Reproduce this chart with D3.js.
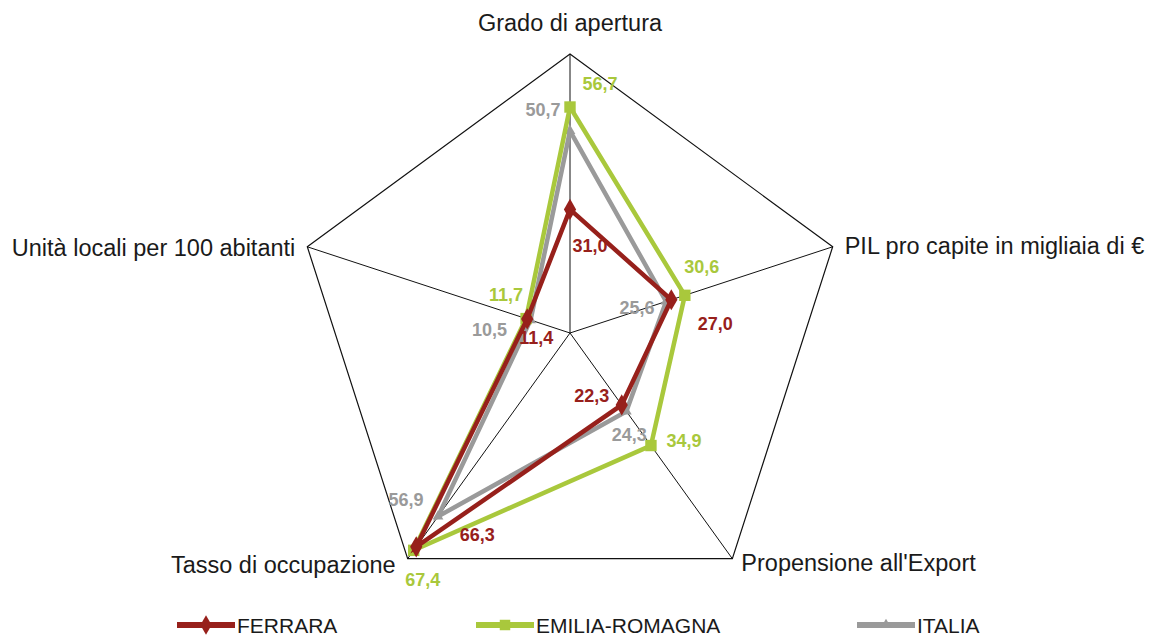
<!DOCTYPE html>
<html>
<head>
<meta charset="utf-8">
<script src="https://cdn.jsdelivr.net/npm/d3@7"></script>
<style>
  body { margin: 0; background: #fff; }
  svg { font-family: "Liberation Sans", Arial, sans-serif; }
</style>
</head>
<body>
<div id="vis"></div>
<script>
const FRAME_WIDTH = 1152;
const FRAME_HEIGHT = 636;
const CENTER = {x: 570, y: 333};
const RADIUS = 279;
const X_STRETCH = 0.99;

const AXES = ['Grado di apertura', 'PIL pro capite in migliaia di €', "Propensione all'Export",
              'Tasso di occupazione', 'Unità locali per 100 abitanti'];
const SERIES = ['FERRARA', 'EMILIA-ROMAGNA', 'ITALIA'];
const FERRARA = [31.0, 27.0, 22.3, 66.3, 11.4];
const EMILIA = [56.7, 30.6, 34.9, 67.4, 11.7];
const ITALIA = [50.7, 25.6, 24.3, 56.9, 10.5];
const MAX_VALUE = 70;

const COLORS = {'FERRARA': '#97201b', 'EMILIA-ROMAGNA': '#a9c83c', 'ITALIA': '#9a9a9a'};
const SYMBOLS = {'FERRARA': d3.symbolDiamond, 'EMILIA-ROMAGNA': d3.symbolSquare, 'ITALIA': d3.symbolTriangle};

const data = [
  {name: 'ITALIA', values: ITALIA},
  {name: 'EMILIA-ROMAGNA', values: EMILIA},
  {name: 'FERRARA', values: FERRARA}
];

// label offsets (dx, dy) of the label centre relative to its point
const LABEL_OFFSETS = {
  'FERRARA': [[20, 37], [44, 24], [-30, -9], [61, -12], [9, 19]],
  'EMILIA-ROMAGNA': [[30, -23], [17, -28], [33, -5], [9, 30], [-20, -24]],
  'ITALIA': [[-27, -21], [-29, 7], [3, 24], [-32, -16], [-41, 10]]
};

const ANGLE = d3.scaleLinear().domain([0, AXES.length]).range([0, 2 * Math.PI]);
const R_SCALE = d3.scaleLinear().domain([0, MAX_VALUE]).range([0, RADIUS]);

function pt(i, v) {
  const a = ANGLE(i);
  return [CENTER.x + X_STRETCH * R_SCALE(v) * Math.sin(a), CENTER.y - R_SCALE(v) * Math.cos(a)];
}

const svg = d3.select('#vis')
  .append('svg')
    .attr('width', FRAME_WIDTH)
    .attr('height', FRAME_HEIGHT);

// grid
svg.append('path')
  .attr('d', d3.line()(AXES.map((d, i) => pt(i, MAX_VALUE))) + 'Z')
  .attr('fill', 'none')
  .attr('stroke', '#111')
  .attr('stroke-width', 1.2);

svg.selectAll('.spoke')
  .data(AXES)
  .enter()
  .append('line')
    .attr('class', 'spoke')
    .attr('x1', CENTER.x)
    .attr('y1', CENTER.y)
    .attr('x2', (d, i) => pt(i, MAX_VALUE)[0])
    .attr('y2', (d, i) => pt(i, MAX_VALUE)[1])
    .attr('stroke', '#111')
    .attr('stroke-width', 1);

// axis labels
const AXIS_LABEL_POS = [
  {dx: 0, dy: -31, anchor: 'middle'},
  {dx: 12, dy: -1, anchor: 'start'},
  {dx: 9, dy: 4, anchor: 'start'},
  {dx: -12, dy: 6, anchor: 'end'},
  {dx: -12, dy: 1, anchor: 'end'}
];
svg.selectAll('.axis-label')
  .data(AXES)
  .enter()
  .append('text')
    .attr('class', 'axis-label')
    .attr('x', (d, i) => pt(i, MAX_VALUE)[0] + AXIS_LABEL_POS[i].dx)
    .attr('y', (d, i) => pt(i, MAX_VALUE)[1] + AXIS_LABEL_POS[i].dy)
    .attr('text-anchor', (d, i) => AXIS_LABEL_POS[i].anchor)
    .attr('dominant-baseline', 'central')
    .attr('font-size', '23.5px')
    .attr('fill', '#1a1a1a')
    .text(d => d);

// series
const groups = svg.selectAll('.series')
  .data(data)
  .enter()
  .append('g')
    .attr('class', 'series');

groups.append('path')
  .attr('d', d => d3.line()(d.values.map((v, i) => pt(i, v))) + 'Z')
  .attr('fill', 'none')
  .attr('stroke', d => COLORS[d.name])
  .attr('stroke-width', 4.5)
  .attr('stroke-linejoin', 'miter');

groups.selectAll('.marker')
  .data(d => d.values.map((v, i) => ({name: d.name, v: v, i: i})))
  .enter()
  .append('path')
    .attr('class', 'marker')
    .attr('transform', d => 'translate(' + pt(d.i, d.v) + ')')
    .attr('d', d => d3.symbol().type(SYMBOLS[d.name]).size(d.name === 'ITALIA' ? 50 : 130)())
    .attr('fill', d => COLORS[d.name]);

// value labels
const labels = [];
data.forEach(s => s.values.forEach((v, i) => labels.push({name: s.name, v: v, i: i})));
svg.selectAll('.value-label')
  .data(labels)
  .enter()
  .append('text')
    .attr('class', 'value-label')
    .attr('x', d => pt(d.i, d.v)[0] + LABEL_OFFSETS[d.name][d.i][0])
    .attr('y', d => pt(d.i, d.v)[1] + LABEL_OFFSETS[d.name][d.i][1])
    .attr('text-anchor', 'middle')
    .attr('dominant-baseline', 'central')
    .attr('font-size', '18px')
    .attr('font-weight', 'bold')
    .attr('fill', d => COLORS[d.name])
    .text(d => d3.format('.1f')(d.v).replace('.', ','));

// legend
const LEGEND_X = [177, 476, 857];
const legend = svg.selectAll('.legend')
  .data(SERIES)
  .enter()
  .append('g')
    .attr('class', 'legend')
    .attr('transform', (d, i) => 'translate(' + LEGEND_X[i] + ',625)');

legend.append('line')
  .attr('x1', 0).attr('x2', 58)
  .attr('stroke', d => COLORS[d])
  .attr('stroke-width', 6);

legend.append('path')
  .attr('transform', 'translate(29,0)')
  .attr('d', d => d3.symbol().type(SYMBOLS[d]).size(d === 'ITALIA' ? 50 : 110)())
  .attr('fill', d => COLORS[d]);

legend.append('text')
  .attr('x', 60)
  .attr('dominant-baseline', 'central')
  .attr('font-size', '21px')
  .attr('fill', '#1a1a1a')
  .text(d => d);
</script>
</body>
</html>
